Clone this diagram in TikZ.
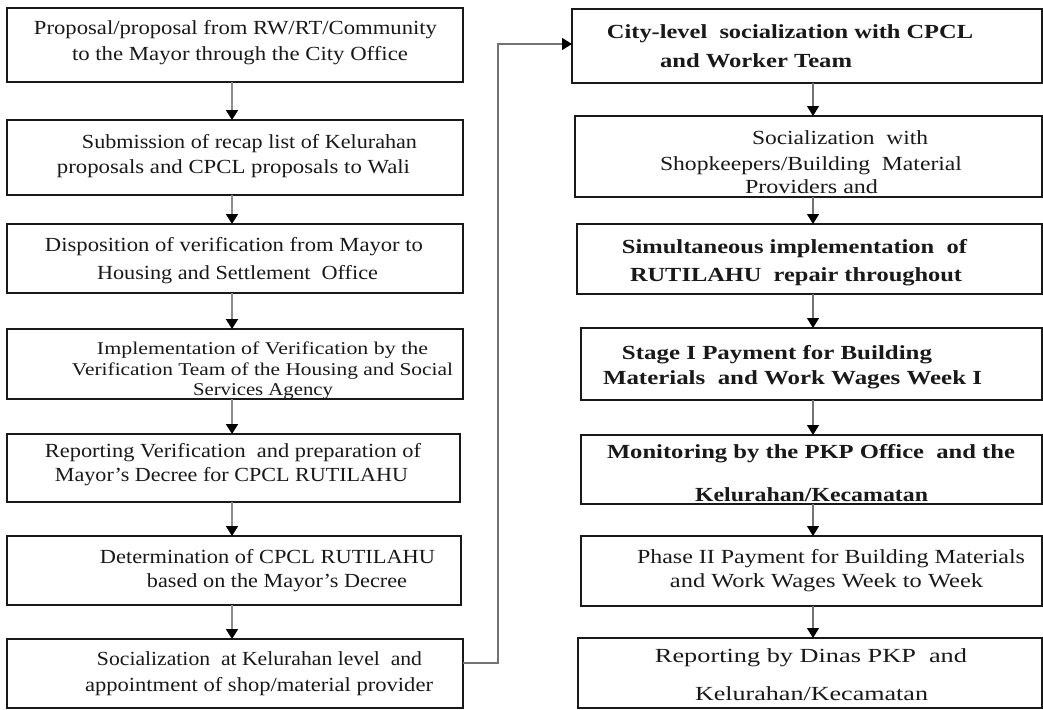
\documentclass[tikz,border=0pt]{standalone}
\usepackage{fontspec}
\setmainfont{Liberation Serif}
\usetikzlibrary{arrows.meta}
\newcommand{\fw}[2]{\resizebox{#1pt}{\height}{#2}}
\begin{document}
\begin{tikzpicture}[x=1pt,y=-1pt,
  box/.style={draw=black!90,line width=1.5pt,inner sep=0pt,outer sep=0pt,anchor=north west,fill=white},
  txt/.style={anchor=base,inner sep=0pt,outer sep=0pt,text=black!90,font=\fontsize{20}{22}\selectfont},
  smalltxt/.style={txt,font=\fontsize{18}{20}\selectfont},
  boldtxt/.style={txt,font=\fontsize{20}{22}\selectfont\bfseries},
  tip/.style={-{Triangle[width=12pt,length=10pt,color=black]}},
  lconn/.style={draw=black!45,line width=2pt,tip},
  rconn/.style={draw=black!55,line width=1.2pt,tip}]
\useasboundingbox (0,0) rectangle (1043,709);
\fill[white] (0,0) rectangle (1043,709);
% left column boxes
\node[box,minimum width=456pt,minimum height=74pt] (L1) at (7,8) {};
\node[box,minimum width=456pt,minimum height=75pt] (L2) at (7,120) {};
\node[box,minimum width=456pt,minimum height=69pt] (L3) at (7,224) {};
\node[box,minimum width=456pt,minimum height=70pt] (L4) at (7,329) {};
\node[box,minimum width=453pt,minimum height=68pt] (L5) at (7,434) {};
\node[box,minimum width=454pt,minimum height=69pt] (L6) at (7,536) {};
\node[box,minimum width=456pt,minimum height=69pt] (L7) at (7,639) {};
% right column boxes
\node[box,minimum width=470pt,minimum height=74pt] (R1) at (572,9) {};
\node[box,minimum width=467pt,minimum height=81pt] (R2) at (575,116) {};
\node[box,minimum width=465pt,minimum height=70pt] (R3) at (577,224) {};
\node[box,minimum width=461pt,minimum height=72pt] (R4) at (581,328) {};
\node[box,minimum width=461pt,minimum height=69pt] (R5) at (581,435) {};
\node[box,minimum width=461pt,minimum height=70pt] (R6) at (581,536) {};
\node[box,minimum width=464pt,minimum height=70pt] (R7) at (578,638) {};
% texts left
\node[txt] (t1a) at (235.5,35) {\fw{403}{Proposal/proposal from RW/RT/Community}};
\node[txt] (t1b) at (240,60) {\fw{336}{to the Mayor through the City Office}};
\node[txt] (t2a) at (249.5,148) {\fw{335}{Submission of recap list of Kelurahan}};
\node[txt] (t2b) at (233.5,173) {\fw{353}{proposals and CPCL proposals to Wali}};
\node[txt] (t3a) at (234,251) {\fw{378}{Disposition of verification from Mayor to}};
\node[txt] (t3b) at (237.5,279) {\fw{281}{Housing and Settlement\ \ Office}};
\node[smalltxt] (t4a) at (262.5,354) {\fw{331}{Implementation of Verification by the}};
\node[smalltxt] (t4b) at (262.5,375) {\fw{381}{Verification Team of the Housing and Social}};
\node[smalltxt] (t4c) at (263,395) {\fw{140}{Services Agency}};
\node[txt] (t5a) at (233,457) {\fw{376}{Reporting Verification\ \ and preparation of}};
\node[txt] (t5b) at (231.5,481) {\fw{353}{Mayor's Decree for CPCL RUTILAHU}};
\node[txt] (t6a) at (267.5,563) {\fw{335}{Determination of CPCL RUTILAHU}};
\node[txt] (t6b) at (277,587) {\fw{260}{based on the Mayor's Decree}};
\node[txt] (t7a) at (259.5,665) {\fw{325}{Socialization\ \ at Kelurahan level\ \ and}};
\node[txt] (t7b) at (259,691) {\fw{348}{appointment of shop/material provider}};
% texts right
\node[boldtxt] (r1a) at (790,38) {\fw{366}{City-level\ \ socialization with CPCL}};
\node[boldtxt] (r1b) at (756,67) {\fw{192}{and Worker Team}};
\node[txt] (r2a) at (840,144) {\fw{176}{Socialization\ \ with}};
\node[txt] (r2b) at (811,170) {\fw{302}{Shopkeepers/Building\ \ Material}};
\node[txt] (r2c) at (811.5,193) {\fw{133}{Providers and}};
\node[boldtxt] (r3a) at (794.5,253) {\fw{345}{Simultaneous implementation\ \ of}};
\node[boldtxt] (r3b) at (796,281) {\fw{332}{RUTILAHU\ \ repair throughout}};
\node[boldtxt] (r4a) at (777,359) {\fw{310}{Stage I Payment for Building}};
\node[boldtxt] (r4b) at (792.5,384) {\fw{379}{Materials\ \ and Work Wages Week I}};
\node[boldtxt] (r5a) at (811,458) {\fw{408}{Monitoring by the PKP Office\ \ and the}};
\node[boldtxt] (r5b) at (811.5,501) {\fw{233}{Kelurahan/Kecamatan}};
\node[txt] (r6a) at (831,563) {\fw{388}{Phase II Payment for Building Materials}};
\node[txt] (r6b) at (826.5,587) {\fw{313}{and Work Wages Week to Week}};
\node[txt] (r7a) at (811,662) {\fw{312}{Reporting by Dinas PKP\ \ and}};
\node[txt] (r7b) at (811.5,700) {\fw{233}{Kelurahan/Kecamatan}};
% connectors
\coordinate (lx) at (232,0);
\coordinate (rx) at (813,0);
\foreach \a/\b in {L1/L2,L2/L3,L3/L4,L4/L5,L5/L6,L6/L7}
  \draw[lconn] (\a.south -| lx) -- (\b.north -| lx);
\foreach \a/\b in {R1/R2,R2/R3,R3/R4,R4/R5,R5/R6,R6/R7}
  \draw[rconn] (\a.south -| rx) -- (\b.north -| rx);
\coordinate (loopA) at (498,663);
\coordinate (loopB) at (498,44);
\draw[draw=black!55,line width=1.4pt,tip]
  (L7.east |- loopA) -- (loopA) -- (loopB) -- (R1.west |- loopB);
\end{tikzpicture}
\end{document}
